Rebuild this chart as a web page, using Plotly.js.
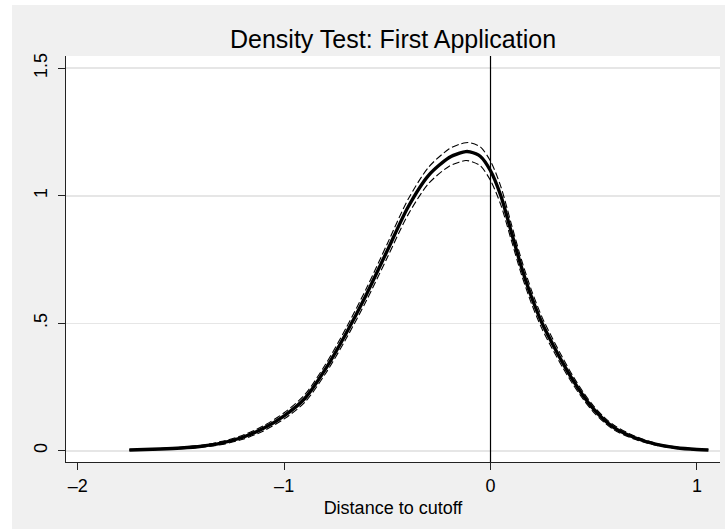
<!DOCTYPE html>
<html>
<head>
<meta charset="utf-8">
<script src="https://cdn.plot.ly/plotly-3.0.1.min.js"></script>
<style>
  html, body { margin: 0; padding: 0; background: #ffffff; width: 725px; height: 529px; overflow: hidden; }
  #chart { position: absolute; left: 12px; top: 5px; width: 713px; height: 524px; }
</style>
</head>
<body>
<div id="chart"></div>
<script>
// Distance to cutoff (x) and estimated density (solid), with lower / upper confidence bands (dashed)
const distance = [-1.75, -1.6, -1.5, -1.4, -1.3, -1.2, -1.1, -1.0, -0.9, -0.8, -0.7, -0.6, -0.5, -0.4, -0.3, -0.2, -0.15, -0.12, -0.1, -0.05, 0.0, 0.05, 0.1, 0.15, 0.2, 0.25, 0.3, 0.35, 0.4, 0.45, 0.5, 0.55, 0.6, 0.7, 0.8, 0.9, 1.0, 1.056];
const density  = [0.003, 0.007, 0.011, 0.018, 0.031, 0.053, 0.088, 0.137, 0.205, 0.320, 0.460, 0.615, 0.785, 0.955, 1.080, 1.150, 1.167, 1.173, 1.172, 1.155, 1.098, 1.000, 0.860, 0.720, 0.600, 0.500, 0.420, 0.345, 0.276, 0.215, 0.163, 0.122, 0.090, 0.051, 0.026, 0.012, 0.005, 0.003];
const lowerCI  = [0.002, 0.005, 0.008, 0.014, 0.025, 0.045, 0.078, 0.125, 0.190, 0.302, 0.439, 0.591, 0.758, 0.925, 1.048, 1.116, 1.132, 1.138, 1.136, 1.118, 1.060, 0.964, 0.828, 0.691, 0.574, 0.477, 0.399, 0.326, 0.260, 0.201, 0.151, 0.112, 0.081, 0.045, 0.022, 0.009, 0.003, 0.002];
const upperCI  = [0.004, 0.009, 0.014, 0.022, 0.037, 0.061, 0.098, 0.149, 0.220, 0.338, 0.481, 0.639, 0.812, 0.985, 1.112, 1.184, 1.202, 1.208, 1.208, 1.192, 1.136, 1.036, 0.892, 0.749, 0.626, 0.523, 0.441, 0.364, 0.292, 0.229, 0.175, 0.132, 0.099, 0.057, 0.030, 0.015, 0.007, 0.004];

const xTickVals = [-2, -1, 0, 1];
const xTickText = ['\u20132', '\u20131', '0', '1'];
const yTickVals = [0, 0.5, 1, 1.5];
const yTickText = ['0', '.5', '1', '1.5'];

const cutoff = 0;

const FONT = 'Liberation Sans, Arial, Helvetica, sans-serif';

const dashLine = { color: '#000000', width: 1.1, dash: '7px,3px', shape: 'spline', smoothing: 0.8 };

const traces = [
  { x: distance, y: lowerCI, type: 'scatter', mode: 'lines', line: dashLine, hoverinfo: 'skip' },
  { x: distance, y: upperCI, type: 'scatter', mode: 'lines', line: dashLine, hoverinfo: 'skip' },
  { x: distance, y: density, type: 'scatter', mode: 'lines',
    line: { color: '#000000', width: 3.4, shape: 'spline', smoothing: 0.8 } }
];

const layout = {
  width: 713, height: 524,
  margin: { l: 54, r: 5, t: 51, b: 67 },
  paper_bgcolor: '#f0f0f0',
  plot_bgcolor: '#ffffff',
  showlegend: false,
  font: { family: FONT, size: 18, color: '#000000' },
  title: { text: 'Density Test: First Application', font: { family: FONT, size: 25, color: '#000000' },
           x: 0.5, xref: 'paper', xanchor: 'center', y: 0.935, yref: 'container', yanchor: 'middle' },
  xaxis: {
    range: [-2.057, 1.112], tickmode: 'array', tickvals: xTickVals, ticktext: xTickText,
    showgrid: false, zeroline: false, showline: true, linecolor: '#222222', linewidth: 1,
    ticks: 'outside', ticklen: 7, tickwidth: 1, tickcolor: '#222222',
    tickfont: { family: FONT, size: 18, color: '#000000' },
    title: { text: 'Distance to cutoff', font: { family: FONT, size: 18, color: '#000000' }, standoff: 6 },
    fixedrange: true
  },
  yaxis: {
    range: [-0.044, 1.548], tickmode: 'array', tickvals: yTickVals, ticktext: yTickText,
    showgrid: true, gridcolor: '#e6e6e6', gridwidth: 1.5, zeroline: false,
    showline: true, linecolor: '#222222', linewidth: 1,
    ticks: 'outside', ticklen: 7, tickwidth: 1, tickcolor: '#222222',
    tickangle: -90, ticklabelstandoff: 4, tickfont: { family: FONT, size: 18, color: '#000000' },
    fixedrange: true
  },
  shapes: [
    { type: 'line', xref: 'x', yref: 'paper', x0: cutoff, x1: cutoff, y0: 0, y1: 1,
      line: { color: '#000000', width: 1.2 } }
  ]
};

Plotly.newPlot('chart', traces, layout, { staticPlot: true, displayModeBar: false });
</script>
</body>
</html>
